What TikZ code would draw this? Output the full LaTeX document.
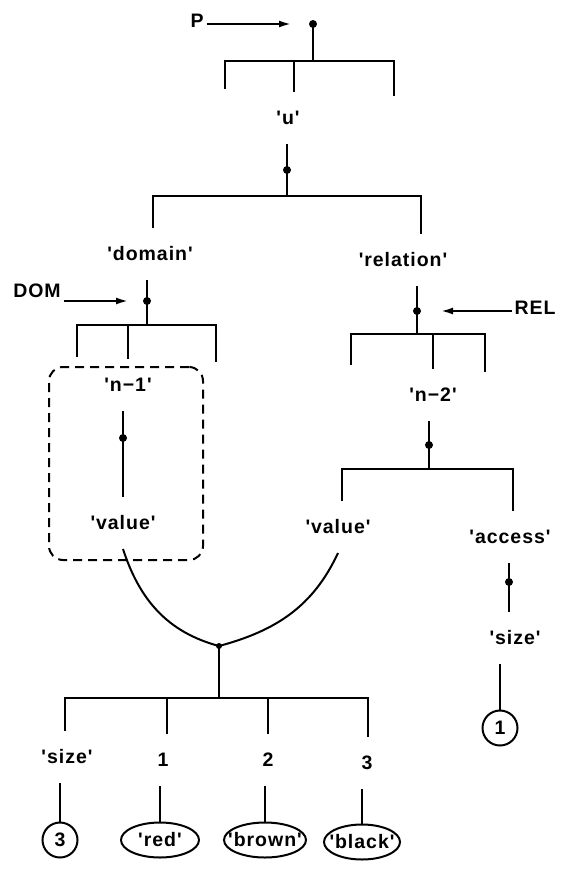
\documentclass[tikz,border=0pt]{standalone}
\usepackage{fontspec}
\newfontfamily\labfont{Liberation Sans Bold}[Ligatures=TeXOff, LetterSpace=5]
\usetikzlibrary{arrows.meta,shapes.geometric}

\begin{document}
\begin{tikzpicture}[x=1pt,y=-1pt,line width=2pt,
  lab/.style={font=\labfont\fontsize{19.5}{22}\selectfont, inner sep=0pt,
              minimum height=50pt, text height=13pt, text depth=0pt},
  ptrlab/.style={font=\labfont\fontsize{19.5}{22}\selectfont, inner sep=2pt},
  dot/.style={circle, fill=black, inner sep=0pt, minimum size=8pt},
  ptr/.style={-{Latex[length=12pt,width=7pt]}, line width=2pt},
  leaf/.style={draw, ellipse, inner sep=0pt, minimum height=35pt},
  leaftext/.style={font=\labfont\fontsize{19.5}{22}\selectfont, inner sep=0pt},
  ringnode/.style={draw, circle, inner sep=0pt, minimum size=35pt,
                   font=\labfont\fontsize{19.5}{22}\selectfont},
  group/.style={draw, dashed, dash pattern=on 9pt off 6pt, rounded corners=14pt,
                inner sep=0pt}]

\fill[white] (0,0) rectangle (561,872);
\useasboundingbox (0,0) rectangle (561,872);

% ---- labels ----
\node[lab] (u)        at (288,118) {'u'};
\node[lab] (domain)   at (150,254) {'domain'};
\node[lab] (relation) at (403,260) {'relation'};
\node[lab] (n1)       at (128,385) {'n−1'};
\node[lab] (vL)       at (123,523) {'value'};
\node[lab] (n2)       at (433,395) {'n−2'};
\node[lab] (vR)       at (338,527) {'value'};
\node[lab] (access)   at (510,537) {'access'};
\node[lab] (sizeR)    at (515,638) {'size'};
\node[lab] (sizeL)    at (67,757)  {'size'};
\node[lab] (k1)       at (163,760) {1};
\node[lab] (k2)       at (268,760) {2};
\node[lab] (k3)       at (367,763) {3};

% ---- pointers ----
\node[ptrlab] (P)   at (197,21)  {P};
\node[ptrlab] (DOM) at (37,291)  {DOM};
\node[ptrlab] (REL) at (535,308) {REL};

% ---- dots ----
\node[dot] (d0) at (313,24)  {};
\node[dot] (d1) at (287,170) {};
\node[dot] (d2) at (147,301) {};
\node[dot] (d3) at (417,311) {};
\node[dot] (d6) at (123,438) {};
\node[dot] (d4) at (429,445) {};
\node[dot] (d5) at (509,582) {};
\node[dot, minimum size=6pt] (j) at (219,646) {};

% ---- leaves ----
\node[ringnode] (c1) at (500,728) {1};
\node[ringnode] (c3) at (60,840)  {3};
\node[leaf, minimum width=78pt] (e1) at (160,840) {};
\node[leaf, minimum width=82pt] (e2) at (265,840) {};
\node[leaf, minimum width=76pt] (e3) at (362,842) {};
\node[leaftext] (e1t) at (e1) {'red'};
\node[leaftext] (e2t) at (e2) {'brown'};
\node[leaftext] (e3t) at (e3) {'black'};

% ---- dashed group around the domain entry ----
\node[group, minimum width=154pt, minimum height=193pt] (grp) at (126,463.5) {};

% ---- bar under P ----
\coordinate (t0L) at (225,61);  \coordinate (t0R) at (394,61);
\coordinate (t0M) at (294,61);  \coordinate (t0J) at (313,61);
\coordinate (e0L) at (225,89);  \coordinate (e0R) at (394,96);
\draw (e0L) -- (t0L) -- (t0R) -- (e0R);
\draw (d0.center) -- (t0J);
\draw (t0M) -- (t0M |- u.north);

% ---- bar under 'u' ----
\coordinate (t1J) at (287,196);
\coordinate (t1L) at (153,196); \coordinate (t1R) at (421,196);
\draw (u.south -| d1) -- (d1.center) -- (t1J);
\draw (t1L |- domain.north) -- (t1L) -- (t1R) -- (t1R |- relation.north);

% ---- bar under 'domain' ----
\coordinate (t2J) at (147,325);
\coordinate (t2L) at (77,325);  \coordinate (t2M) at (128,325); \coordinate (t2R) at (216,325);
\coordinate (e2L) at (77,357);  \coordinate (e2R) at (216,362);
\draw (domain.south -| d2) -- (d2.center) -- (t2J);
\draw (e2L) -- (t2L) -- (t2R) -- (e2R);
\draw (t2M) -- (n1.north -| t2M);
\draw (n1.south -| d6) -- (d6.center) -- (vL.north -| d6);

% ---- bar under 'relation' ----
\coordinate (t3J) at (417,334);
\coordinate (t3L) at (351,334); \coordinate (t3M) at (433,334); \coordinate (t3R) at (485,334);
\coordinate (e3L) at (351,365); \coordinate (e3R) at (485,372);
\draw (relation.south -| d3) -- (d3.center) -- (t3J);
\draw (e3L) -- (t3L) -- (t3R) -- (e3R);
\draw (t3M) -- (n2.north -| t3M);

% ---- bar under 'n-2' ----
\coordinate (t4J) at (429,469);
\coordinate (t4L) at (342,469); \coordinate (t4R) at (513,469);
\draw (n2.south -| d4) -- (d4.center) -- (t4J);
\draw (vR.north -| t4L) -- (t4L) -- (t4R) -- (access.north -| t4R);
\draw (access.south -| d5) -- (d5.center) -- (sizeR.north -| d5);
\draw (c1.north |- sizeR.south) -- (c1.north);

% ---- shared value set ----
\draw (vL.south) to[out=-72,in=165] (j.center) to[out=15,in=-115] (vR.south);
\coordinate (t5J) at (219,698);
\coordinate (t5L) at (65,698);   \coordinate (t5A) at (167,698);
\coordinate (t5B) at (268,698);  \coordinate (t5R) at (368,698);
\draw (j.center) -- (t5J);
\draw (sizeL.north -| t5L) -- (t5L) -- (t5R) -- (k3.north -| t5R);
\draw (t5A) -- (k1.north -| t5A);
\draw (t5B) -- (k2.north -| t5B);
\draw (sizeL.south -| c3) -- (c3);
\draw (k1.south -| e1) -- (e1);
\draw (k2.south -| e2) -- (e2);
\draw (k3.south -| e3) -- (e3);

% ---- pointer arrows ----
\draw[ptr, shorten >=17pt] (P.east |- d0) -- (d0);
\draw[ptr, shorten >=14pt] (DOM.east |- d2) -- (d2);
\draw[ptr, shorten >=19pt] (REL.west |- d3) -- (d3);
\end{tikzpicture}
\end{document}
